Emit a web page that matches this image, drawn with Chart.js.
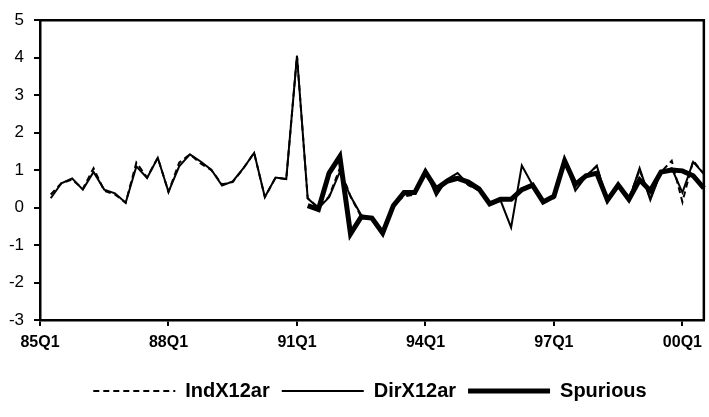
<!DOCTYPE html>
<html>
<head>
<meta charset="utf-8">
<script src="https://cdn.jsdelivr.net/npm/chart.js@4.4.0/dist/chart.umd.min.js"></script>
<style>
  html, body { margin: 0; padding: 0; background: #fff; }
</style>
</head>
<body>
<canvas id="chart" width="709" height="417"></canvas>
<script>
/* quarterly categories 85Q1 .. 00Q3 */
const QUARTERS = [];
for (let y = 85; y <= 100; y++) {
  for (let q = 1; q <= 4; q++) {
    if (y === 100 && q > 3) break;
    QUARTERS.push(String(y % 100).padStart(2, "0") + "Q" + q);
  }
}
const TICK_LABELS = ["85Q1", "88Q1", "91Q1", "94Q1", "97Q1", "00Q1"];

const IND_X12AR = [null, 0.35, 0.65, 0.75, 0.50, 1.05, 0.45, 0.35, 0.13, 1.20, 0.80, 1.33, 0.42, 1.20, 1.42, 1.18, 1.00, 0.62, 0.68, 1.05, 1.46, 0.28, 0.80, 0.76, 4.05,
  0.25, 0.00, 0.30, 1.05, 0.30, -0.25, -0.30, -0.65, 0.10, 0.30,
  0.35, 1.00, 0.40, 0.72, 0.85, 0.60, 0.45, 0.10, 0.20, 0.20,
  0.45, 0.60, 0.15, 0.25, 1.20, 0.55, 0.85, 1.10, 0.15, 0.60,
  0.25, 1.00, 0.25, 0.95, 1.25, 0.15, 1.25, 0.90];

const DIR_X12AR = [null, 0.25, 0.65, 0.78, 0.48, 0.95, 0.48, 0.38, 0.13, 1.10, 0.79, 1.33, 0.42, 1.10, 1.42, 1.23, 1.01, 0.59, 0.70, 1.05, 1.46, 0.28, 0.80, 0.76, 4.05,
  0.25, -0.02, 0.28, 0.95, 0.30, -0.20, -0.30, -0.65, 0.05, 0.35,
  0.38, 1.00, 0.32, 0.75, 0.92, 0.62, 0.45, 0.10, 0.20, -0.53,
  1.12, 0.60, 0.13, 0.30, 1.27, 0.45, 0.83, 1.12, 0.15, 0.60,
  0.20, 1.05, 0.20, 0.95, 1.05, 0.40, 1.22, 0.90];

const SPURIOUS = [null, null, null, null, null, null, null, null, null, null, null, null, null, null, null, null, null, null, null, null, null, null, null, null, null,
  0.05, -0.05, 0.92, 1.36, -0.70, -0.25, -0.28, -0.68, 0.05, 0.40,
  0.40, 0.95, 0.50, 0.70, 0.78, 0.68, 0.50, 0.10, 0.22, 0.22,
  0.48, 0.60, 0.15, 0.30, 1.25, 0.62, 0.85, 0.92, 0.20, 0.60,
  0.22, 0.74, 0.45, 0.95, 1.00, 0.98, 0.85, 0.52];

const Y_MIN = -3, Y_MAX = 5;

// box around the plot area (top + right edges)
const frame = {
  id: "frame",
  beforeDatasetsDraw(chart) {
    const { ctx, chartArea: a } = chart;
    ctx.save();
    ctx.strokeStyle = "#000";
    ctx.lineWidth = 2.5;
    ctx.beginPath();
    ctx.moveTo(a.left, a.top);
    ctx.lineTo(a.right, a.top);
    ctx.lineTo(a.right, a.bottom);
    ctx.stroke();
    ctx.restore();
  }
};

new Chart(document.getElementById("chart"), {
  type: "line",
  data: {
    labels: QUARTERS,
    datasets: [
      { label: "IndX12ar", data: IND_X12AR, borderColor: "#000", borderWidth: 2, borderDash: [6, 4] },
      { label: "DirX12ar", data: DIR_X12AR, borderColor: "#000", borderWidth: 2 },
      { label: "Spurious", data: SPURIOUS, borderColor: "#000", borderWidth: 5 }
    ]
  },
  options: {
    responsive: false,
    animation: false,
    devicePixelRatio: 1,
    elements: { point: { radius: 0 }, line: { tension: 0, fill: false } },
    // negative right padding + empty right axis: legend centre moves right, plot still ends near x=708
    layout: { padding: { top: 11, right: -31, left: 0, bottom: 6 } },
    plugins: {
      tooltip: { enabled: false },
      legend: {
        position: "bottom",
        labels: {
          usePointStyle: true,
          pointStyle: "line",
          pointStyleWidth: 82,
          color: "#000",
          padding: 12,
          font: { family: "'Liberation Sans', Arial, sans-serif", size: 20, weight: "bold" },
          generateLabels: function (chart) {
            const items = Chart.defaults.plugins.legend.labels.generateLabels(chart);
            items.forEach((it, i) => { it.lineDash = chart.data.datasets[i].borderDash || []; });
            return items;
          }
        }
      }
    },
    scales: {
      x: {
        offset: false,
        grid: {
          display: true, drawOnChartArea: false, drawTicks: true,
          tickLength: 6, color: "#000", lineWidth: 2
        },
        border: { color: "#000", width: 2.5 },
        ticks: {
          autoSkip: false, maxRotation: 0, padding: 7, color: "#000",
          font: { family: "'Liberation Sans', Arial, sans-serif", size: 16, weight: "bold" },
          callback: function (v, i) {
            const l = QUARTERS[i];
            return TICK_LABELS.indexOf(l) >= 0 ? l : null;
          }
        },
        afterFit: function (scale) {
          const lh = scale.chart.legend ? scale.chart.legend.height : 0;
          scale.height = 417 - 6 - lh - 320;
        }
      },
      y: {
        min: Y_MIN, max: Y_MAX,
        grid: {
          display: true, drawOnChartArea: false, drawTicks: true,
          tickLength: 6, color: "#000", lineWidth: 2
        },
        border: { color: "#000", width: 2.5 },
        ticks: {
          stepSize: 1, padding: 10, color: "#000",
          font: { family: "'Liberation Sans', Arial, sans-serif", size: 17 }
        },
        afterFit: function (scale) { scale.width = 40; }
      },
      yRight: {
        position: "right",
        grid: { display: false },
        border: { display: false },
        ticks: { display: false },
        afterFit: function (scale) { scale.width = 29; }
      }
    }
  },
  plugins: [frame]
});
</script>
</body>
</html>
